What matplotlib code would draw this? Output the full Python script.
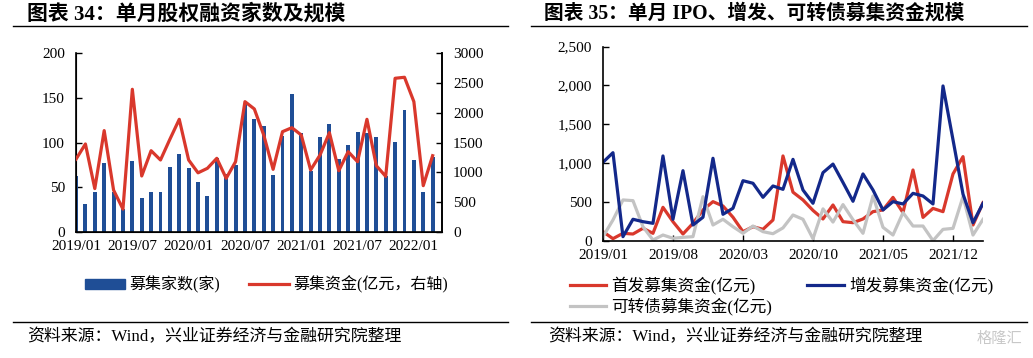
import numpy as np
import matplotlib
matplotlib.use('Agg')
import matplotlib.pyplot as plt
from matplotlib.lines import Line2D
from matplotlib.patches import Patch
from matplotlib.ticker import FuncFormatter

plt.rcParams['font.family'] = ['Liberation Serif', 'Noto Sans CJK SC', 'DejaVu Sans']

# left chart: monthly equity financing, 2019/01 - 2022/03
months_l = ['2019/01', '2019/07', '2020/01', '2020/07', '2021/01', '2021/07', '2022/01']
counts = [62, 31, 44, 77, 45, 25, 79, 38, 44, 44, 72, 87, 71, 56, 40, 83, 65, 75, 143, 126,
          118, 64, 107, 154, 111, 68, 106, 121, 81, 97, 112, 111, 106, 63, 101, 136, 80, 44, 84]
amount = [1220, 1475, 725, 1700, 700, 380, 2395, 937, 1362, 1206, 1554, 1890, 1206, 990, 1066,
          1234, 898, 1177, 2187, 2064, 1626, 1049, 1682, 1749, 1626, 1038, 1290, 1665, 1026, 1346,
          1177, 1890, 1110, 930, 2580, 2597, 2187, 774, 1278]

# right chart: IPO / follow-on / convertible, 2019/01 - 2022/03
months_r = ['2019/01', '2019/08', '2020/03', '2020/10', '2021/05', '2021/12']
ipo = [116, 26, 95, 86, 160, 95, 430, 245, 86, 224, 396, 503, 447, 302, 116, 180, 147, 267, 1092,
       625, 525, 390, 280, 460, 245, 232, 280, 374, 396, 558, 361, 911, 300, 416, 374, 860, 1083,
       202, 490]
seo = [1010, 1134, 52, 276, 245, 224, 1092, 276, 902, 202, 302, 1062, 340, 418, 773, 740, 559, 705,
       662, 1048, 653, 482, 877, 987, 750, 508, 860, 653, 396, 503, 473, 610, 576, 473, 1994, 1300,
       600, 232, 481]
cb = [52, 267, 525, 516, 180, 9, 73, 31, 43, 52, 567, 202, 276, 180, 95, 189, 116, 90, 165, 331,
      276, 25, 410, 240, 465, 270, 95, 576, 172, 73, 361, 189, 189, 0, 146, 159, 567, 73, 275]

BAR_BLUE = '#1F4E96'
RED = '#D9382C'
NAVY = '#13288A'
GREY = '#C3C3C3'
FS = 11

fig = plt.figure(figsize=(10.33, 3.58), dpi=100)

# ---- left chart
x = np.arange(len(counts))
ax1 = fig.add_axes([0.0736, 0.3528, 0.3543, 0.4983])
ax1.bar(x, counts, width=0.42, color=BAR_BLUE, zorder=2)
ax1.set_ylim(0, 200)
ax1.set_yticks(np.arange(0, 201, 50))
ax1.set_xlim(0, 39)
ax1.set_xticks(np.arange(0, 39, 6))
ax1.set_xticklabels(months_l)
ax1.tick_params(axis='y', direction='in', length=4, width=1, labelsize=FS, pad=8)
ax1.tick_params(axis='x', length=0, labelsize=FS, pad=6)
ax1.spines['top'].set_visible(False)
for s in ['left', 'bottom', 'right']:
    ax1.spines[s].set_linewidth(1.2)

ax1b = ax1.twinx()
ax1b.plot(x, amount, color=RED, lw=2.3, zorder=3)
ax1b.set_ylim(0, 3000)
ax1b.set_yticks(np.arange(0, 3001, 500))
ax1b.tick_params(axis='y', direction='in', length=4, width=1, labelsize=FS, pad=8)
ax1b.spines['top'].set_visible(False)
ax1b.spines['right'].set_linewidth(1.2)

fig.legend(handles=[Patch(color=BAR_BLUE, label='募集家数(家)'),
                    Line2D([], [], color=RED, lw=2.3, label='募集资金(亿元，右轴)')],
           loc='center', bbox_to_anchor=(0.258, 0.204), ncol=2, frameon=False,
           fontsize=11.5, handlelength=2.5, handleheight=0.6, columnspacing=1.8, handletextpad=0.3)

# ---- right chart
xr = np.arange(len(ipo))
ax2 = fig.add_axes([0.5837, 0.3277, 0.3679, 0.5419])
ax2.plot(xr, ipo, color=RED, lw=2.3, label='首发募集资金(亿元)')
ax2.plot(xr, cb, color=GREY, lw=2.3, label='可转债募集资金(亿元)')
ax2.plot(xr, seo, color=NAVY, lw=2.3, label='增发募集资金(亿元)')
ax2.set_ylim(0, 2500)
ax2.set_yticks(np.arange(0, 2501, 500))
ax2.yaxis.set_major_formatter(FuncFormatter(lambda v, p: f'{int(v):,}'))
ax2.set_xlim(0, 38)
ax2.set_xticks(np.arange(0, 39, 7))
ax2.set_xticklabels(months_r)
ax2.tick_params(axis='both', direction='in', length=4, width=1, labelsize=FS)
ax2.tick_params(axis='y', pad=8)
ax2.tick_params(axis='x', pad=6)
for s in ['top', 'right']:
    ax2.spines[s].set_visible(False)
for s in ['left', 'bottom']:
    ax2.spines[s].set_linewidth(1.2)

h, l = ax2.get_legend_handles_labels()
fig.legend(h, l, loc='center', bbox_to_anchor=(0.7565, 0.173), ncol=2, frameon=False,
           fontsize=12, handlelength=2.2, columnspacing=2.1, handletextpad=0.3, labelspacing=0.2)

# ---- titles, rules and source notes
fig.text(0.026, 0.961, '图表 34：单月股权融资家数及规模', fontsize=15, fontweight='bold', va='center')
fig.text(0.527, 0.961, '图表 35：单月 IPO、增发、可转债募集资金规模', fontsize=14.2, fontweight='bold', va='center')
for x0, x1 in [(0.013, 0.492), (0.514, 0.994)]:
    fig.add_artist(Line2D([x0, x1], [0.927, 0.927], color='black', lw=1))
    fig.add_artist(Line2D([x0, x1], [0.101, 0.101], color='black', lw=1))
fig.text(0.026, 0.058, '资料来源：Wind，兴业证券经济与金融研究院整理', fontsize=12.2, va='center')
fig.text(0.531, 0.058, '资料来源：Wind，兴业证券经济与金融研究院整理', fontsize=12.2, va='center')
fig.text(0.968, 0.052, '格隆汇', fontsize=11, va='center', ha='center', color='#C8C8C8')

fig.savefig('out.png', dpi=100)
